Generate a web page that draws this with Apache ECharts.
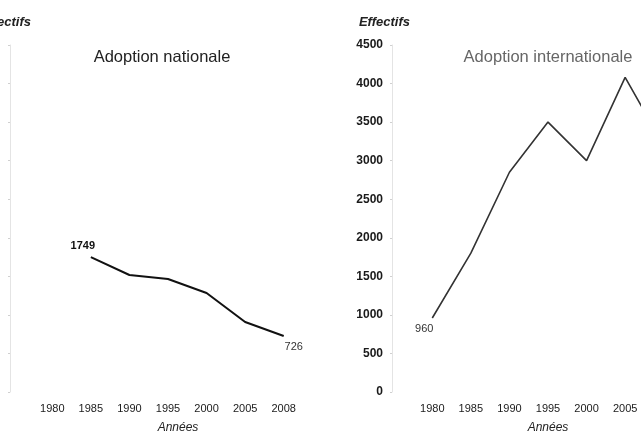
<!DOCTYPE html>
<html>
<head>
<meta charset="utf-8">
<script src="https://cdn.jsdelivr.net/npm/echarts@6/dist/echarts.min.js"></script>
<style>
html,body{margin:0;padding:0;background:#fff;}
#c{width:641px;height:435px;}
</style>
</head>
<body>
<div id="c"></div>
<script>
const years = ['1980','1985','1990','1995','2000','2005','2008'];
const nationale = [null, 1749, 1517, 1466, 1284, 908, 726];
const internationale = [960, 1800, 2850, 3500, 3000, 4080, 3200];
const yTicks = [0, 500, 1000, 1500, 2000, 2500, 3000, 3500, 4000, 4500];

const FONT = '"Liberation Sans", Arial, sans-serif';

function withLabels(arr, labels) {
  return arr.map((v, i) => {
    if (labels[i]) return { value: v, label: Object.assign({ show: true, formatter: String(v) }, labels[i]) };
    return v;
  });
}

const chart = echarts.init(document.getElementById('c'), null, { renderer: 'canvas' });

function yAxis(idx, offset, margin) {
  return {
    type: 'value', gridIndex: idx, min: yTicks[0], max: yTicks[yTicks.length - 1], interval: 500,
    offset: offset,
    axisLine: { show: true, lineStyle: { color: '#e4e4e4', width: 1 } },
    axisTick: { show: true, length: 2, lineStyle: { color: '#d0d0d0' } },
    splitLine: { show: false },
    axisLabel: { show: true, margin: margin, color: '#1a1a1a', fontSize: 12, fontFamily: FONT, fontWeight: 'bold',
      formatter: v => String(v) }
  };
}

function xAxis(idx, namePad) {
  return {
    type: 'category', gridIndex: idx, data: years, boundaryGap: true,
    axisLine: { show: false }, axisTick: { show: false },
    axisLabel: { margin: 11, color: '#1a1a1a', fontSize: 11, fontFamily: FONT },
    name: 'Années', nameLocation: 'middle', nameGap: 30,
    nameTextStyle: { fontStyle: 'italic', fontSize: 12, color: '#222', fontFamily: FONT, padding: namePad }
  };
}

chart.setOption({
  animation: false,
  backgroundColor: '#fff',
  grid: [
    { left: 33, top: 45, width: 270, height: 347, containLabel: false, outerBoundsMode: 'none' },
    { left: 413, top: 45, width: 270, height: 347, containLabel: false, outerBoundsMode: 'none' }
  ],
  xAxis: [xAxis(0, [0, 0, 0, 20]), xAxis(1, [0, 0, 0, 0])],
  yAxis: [yAxis(0, 23, 16), yAxis(1, 21, 9)],
  graphic: [
    { type: 'text', x: 31, y: 22, style: { text: 'Effectifs', align: 'right', verticalAlign: 'middle', font: 'italic bold 13px ' + FONT, fill: '#222' } },
    { type: 'text', x: 410, y: 22, style: { text: 'Effectifs', align: 'right', verticalAlign: 'middle', font: 'italic bold 13px ' + FONT, fill: '#222' } },
    { type: 'text', x: 162, y: 57, style: { text: 'Adoption nationale', align: 'center', verticalAlign: 'middle', font: '16.5px ' + FONT, fill: '#222' } },
    { type: 'text', x: 548, y: 57, style: { text: 'Adoption internationale', align: 'center', verticalAlign: 'middle', font: '16.5px ' + FONT, fill: '#666' } }
  ],
  series: [
    {
      type: 'line', xAxisIndex: 0, yAxisIndex: 0,
      data: withLabels(nationale, {
        1: { position: 'top', offset: [-8, 0], fontWeight: 'bold', fontSize: 11, color: '#111', fontFamily: FONT },
        6: { position: 'bottom', offset: [10, 0], fontSize: 11, color: '#333', fontFamily: FONT }
      }),
      symbol: 'circle', symbolSize: 1, showSymbol: true,
      itemStyle: { color: 'rgba(0,0,0,0)' },
      lineStyle: { color: '#111', width: 2 },
      connectNulls: false
    },
    {
      type: 'line', xAxisIndex: 1, yAxisIndex: 1,
      data: withLabels(internationale, {
        0: { position: 'bottom', offset: [-8, 0], fontSize: 11, color: '#333', fontFamily: FONT }
      }),
      symbol: 'circle', symbolSize: 1, showSymbol: true,
      itemStyle: { color: 'rgba(0,0,0,0)' },
      lineStyle: { color: '#333', width: 1.6 }
    }
  ]
});
</script>
</body>
</html>
